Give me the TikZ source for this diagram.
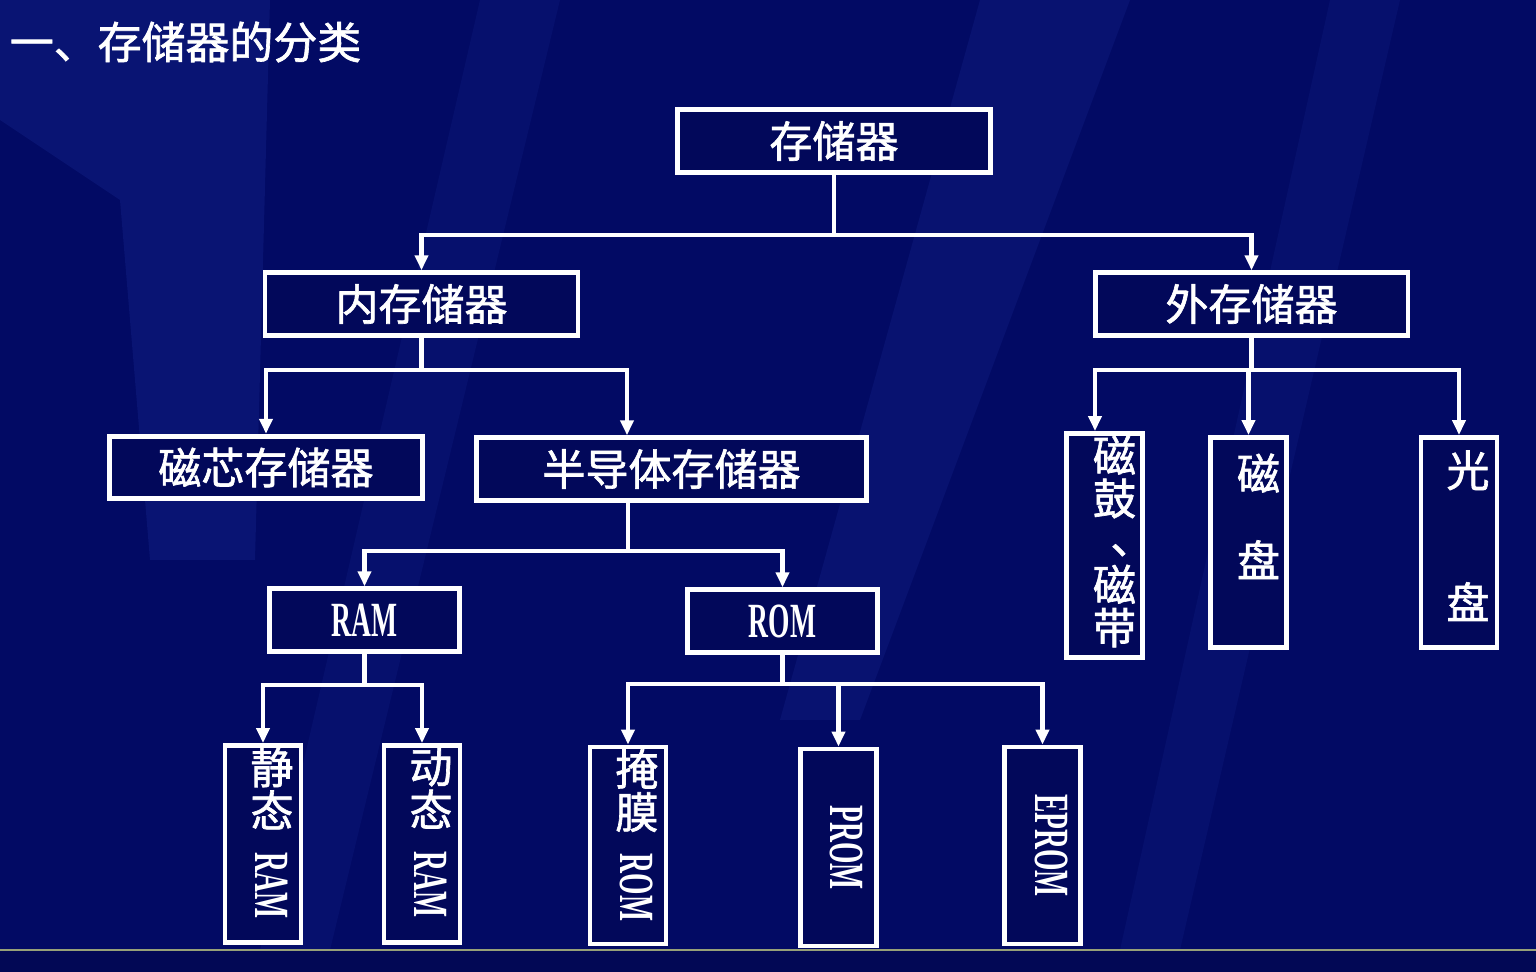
\documentclass[tikz,border=0pt]{standalone}
\usepackage{fontspec}
\usepackage{graphicx}
\setmainfont{Liberation Serif}
\newfontfamily\cjk{Noto Sans CJK SC}[FakeBold=1.5]
\usetikzlibrary{arrows.meta, positioning, calc}
\definecolor{bgnavy}{RGB}{2,10,100}
\definecolor{boxnavy}{RGB}{2,8,90}
\definecolor{streak}{RGB}{26,44,150}
\definecolor{floorline}{RGB}{150,160,120}
% narrow serif latin, as in the slide
\newcommand\lat[1]{\scalebox{0.56}[1]{\rmfamily\bfseries\fontsize{28}{30}\selectfont #1}}
\newcommand\vlat[1]{\rotatebox{-90}{\lat{#1}}}

\begin{document}
\begin{tikzpicture}[x=0.02cm, y=-0.02cm, line width=2.3pt,
    >={Triangle[length=0.3cm,width=0.26cm]},
    hbox/.style={draw=white, line width=2.8pt, fill=boxnavy, text=white,
      font=\cjk\fontsize{24.5}{26}\selectfont,
      minimum width=6.26cm, minimum height=1.25cm, inner sep=0pt},
    vbox/.style={draw=white, line width=2.8pt, fill=boxnavy,
      minimum width=1.52cm, minimum height=3.94cm, inner sep=0pt},
    vtext/.style={text=white, align=center, inner sep=0pt,
      font=\cjk\fontsize{24.5}{24.5}\selectfont},
    link/.style={draw=white, ->}]

    \useasboundingbox (0,0) rectangle (1536,972);

    % --- Background ---
    \fill[bgnavy] (0,0) rectangle (1536,972);
    \fill[streak, opacity=0.3] (0,0) -- (270,0) -- (255,560) -- (150,560) -- (120,200) -- (0,120) -- cycle;
    \fill[streak, opacity=0.25] (980,0) -- (1130,0) -- (860,720) -- (780,720) -- cycle;
    \fill[streak, opacity=0.18] (480,0) -- (560,0) -- (330,950) -- (260,950) -- cycle;
    \fill[streak, opacity=0.18] (1330,0) -- (1400,0) -- (1180,950) -- (1120,950) -- cycle;
    \fill[black!15!bgnavy] (0,950) rectangle (1536,972);
    \draw[floorline, line width=1.7pt] (0,950) -- (1536,950);

    % --- Title ---
    \node[anchor=west, text=white, font=\cjk\fontsize{25}{26}\selectfont] (title) at (2,42) {一、存储器的分类};

    % --- Top levels ---
    \node[hbox] (mem) at (834,141) {存储器};
    \node[hbox] (inner) at (421.5,304) {内存储器};
    \node[hbox] (outer) at (1251.5,304) {外存储器};

    % --- Internal memory ---
    \node[hbox] (core) at (266,467.5) {磁芯存储器};
    \node[hbox, minimum width=7.8cm] (semi) at (671.5,469) {半导体存储器};
    \node[hbox, minimum width=3.8cm] (ram) at (364.5,620) {\lat{RAM}};
    \node[hbox, minimum width=3.8cm] (rom) at (782.5,621) {\lat{ROM}};

    % --- External memory (vertical boxes, text set a bit right) ---
    \node[vbox, minimum height=4.48cm] (drum) at (1104.5,545.5) {};
    \node[vbox, minimum height=4.2cm] (disk) at (1248.5,542.5) {};
    \node[vbox, minimum height=4.2cm] (optic) at (1459,542.5) {};
    \node[vtext, anchor=north] (drumtxt) at ([xshift=0.2cm,yshift=-0.05cm]drum.north)
        {磁\\鼓\\\hspace*{0.7cm}\raisebox{0.08cm}{、}\\磁\\带};
    \node[vtext, anchor=north] (disktxt) at ([xshift=0.2cm,yshift=-0.33cm]disk.north) {磁\\[0.88cm]盘};
    \node[vtext, anchor=north] (optictxt) at ([xshift=0.18cm,yshift=-0.27cm]optic.north) {光\\[1.78cm]盘};

    % --- RAM / ROM kinds ---
    \node[vbox] (sram) at (263,844) {};
    \node[vbox] (dram) at (422,844) {};
    \node[vbox] (mrom) at (628,845.5) {};
    \node[vbox] (prom) at (838.5,847.5) {};
    \node[vbox] (eprom) at (1042.5,845.5) {};
    \node[vtext, anchor=north] (sramtxt) at ([xshift=0.18cm,yshift=-0.05cm]sram.north) {静\\态\\[-0.35cm]\vlat{RAM}};
    \node[vtext, anchor=north] (dramtxt) at ([xshift=0.18cm,yshift=-0.05cm]dram.north) {动\\态\\[-0.35cm]\vlat{RAM}};
    \node[vtext, anchor=north] (mromtxt) at ([xshift=0.18cm,yshift=-0.05cm]mrom.north) {掩\\膜\\[-0.35cm]\vlat{ROM}};
    \node[vtext] (promtxt) at ([xshift=0.16cm]prom.center) {\vlat{PROM}};
    \node[vtext] (epromtxt) at ([xshift=0.18cm]eprom.center) {\vlat{EPROM}};

    % --- Connectors ---
    \draw[link] (mem.south) -- ++(0,60) -| (inner.north);
    \draw[link] (mem.south) -- ++(0,60) -| (outer.north);

    \draw[link] (inner.south) -- ++(0,32) -| (core.north);
    \draw[link] (inner.south) -- ++(0,32) -| ([xshift=-0.89cm]semi.north);

    \draw[link] (outer.south) -- ++(0,32) -| ([xshift=-0.19cm]drum.north);
    \draw[link] (outer.south) -- ++(0,32) -| (disk.north);
    \draw[link] (outer.south) -- ++(0,32) -| (optic.north);

    \draw[link] ([xshift=-0.87cm]semi.south) -- ++(0,48) -| (ram.north);
    \draw[link] ([xshift=-0.87cm]semi.south) -- ++(0,48) -| (rom.north);

    \draw[link] (ram.south) -- ++(0,31) -| (sram.north);
    \draw[link] (ram.south) -- ++(0,31) -| (dram.north);

    \draw[link] (rom.south) -- ++(0,29) -| (mrom.north);
    \draw[link] (rom.south) -- ++(0,29) -| (prom.north);
    \draw[link] (rom.south) -- ++(0,29) -| (eprom.north);

\end{tikzpicture}
\end{document}
